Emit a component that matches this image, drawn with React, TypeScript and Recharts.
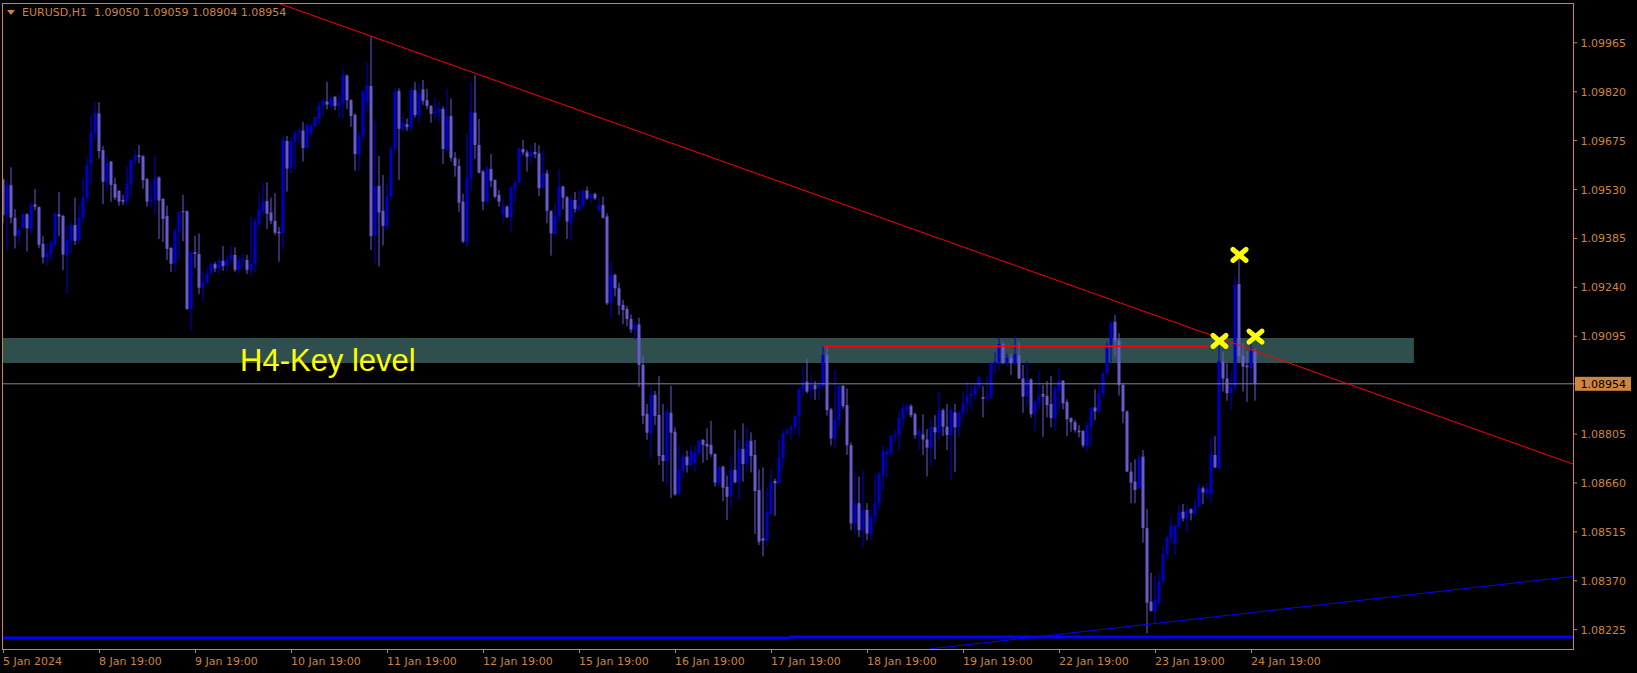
import React from 'react';
import { ComposedChart, Bar, Scatter, XAxis, YAxis, ReferenceArea, ReferenceLine } from 'recharts';

const symbol = 'EURUSD';
const timeframe = 'H1';

// H1 bars [open, high, low, close], first bar 5 Jan 19:00, last bar 24 Jan 20:00
const bars: number[][] = [
  [1.0956, 1.09563, 1.0943, 1.09454], [1.09457, 1.0956, 1.09351, 1.09543], [1.09543, 1.09596, 1.0943, 1.09447], [1.09446, 1.09472, 1.09355, 1.09393],
  [1.09395, 1.09418, 1.09366, 1.0941], [1.09418, 1.09459, 1.0941, 1.09457], [1.09457, 1.0946, 1.09346, 1.09415], [1.09413, 1.09492, 1.09398, 1.09484],
  [1.09486, 1.09532, 1.09469, 1.09479], [1.09478, 1.0948, 1.09356, 1.09366], [1.09369, 1.09392, 1.09311, 1.09329], [1.09328, 1.0937, 1.09304, 1.09341],
  [1.09339, 1.0938, 1.09319, 1.09373], [1.09366, 1.09466, 1.09361, 1.09457], [1.09457, 1.09523, 1.09392, 1.0945], [1.09452, 1.09455, 1.09291, 1.09337],
  [1.09334, 1.09423, 1.0922, 1.0938], [1.09378, 1.09435, 1.09341, 1.09425], [1.09425, 1.09506, 1.09366, 1.09378], [1.0938, 1.09484, 1.09369, 1.09448],
  [1.09447, 1.09565, 1.09425, 1.09507], [1.09507, 1.09627, 1.09491, 1.09602], [1.09608, 1.09748, 1.09548, 1.097], [1.09697, 1.09789, 1.09679, 1.09756],
  [1.09756, 1.09789, 1.09622, 1.09644], [1.09647, 1.09659, 1.09487, 1.09553], [1.09553, 1.0963, 1.09527, 1.09608], [1.09613, 1.09615, 1.09494, 1.09544],
  [1.09546, 1.09565, 1.09499, 1.09506], [1.09526, 1.09529, 1.09482, 1.09494], [1.09499, 1.09514, 1.09484, 1.09494], [1.09496, 1.09598, 1.09484, 1.09548],
  [1.09546, 1.09622, 1.09511, 1.09618], [1.09616, 1.09647, 1.09603, 1.0963], [1.09632, 1.09662, 1.09608, 1.09627], [1.09629, 1.09632, 1.09532, 1.09558],
  [1.09561, 1.09565, 1.09479, 1.09494], [1.09494, 1.09548, 1.09477, 1.09501], [1.09499, 1.0963, 1.09457, 1.09566], [1.09566, 1.09569, 1.09383, 1.09497],
  [1.09502, 1.09505, 1.09374, 1.09443], [1.09452, 1.09482, 1.09321, 1.09354], [1.09357, 1.09359, 1.09286, 1.0931], [1.0931, 1.09417, 1.09286, 1.09407],
  [1.09405, 1.09466, 1.09326, 1.09463], [1.09466, 1.09514, 1.09377, 1.09463], [1.09466, 1.09468, 1.09173, 1.09176], [1.09176, 1.09346, 1.09114, 1.09344],
  [1.09344, 1.09393, 1.09298, 1.09339], [1.09339, 1.094, 1.0922, 1.09239], [1.09239, 1.09287, 1.09198, 1.09255], [1.09254, 1.09298, 1.0925, 1.0928],
  [1.09282, 1.09314, 1.09277, 1.09309], [1.09309, 1.09315, 1.09285, 1.09296], [1.09296, 1.09328, 1.0928, 1.09319], [1.09319, 1.09363, 1.09289, 1.09303],
  [1.09303, 1.09333, 1.09288, 1.09321], [1.09321, 1.09363, 1.0931, 1.09336], [1.09336, 1.09359, 1.09285, 1.09292], [1.09292, 1.09331, 1.0928, 1.09321],
  [1.09321, 1.09341, 1.09302, 1.09325], [1.09321, 1.09336, 1.0928, 1.09292], [1.09292, 1.09452, 1.09275, 1.0931], [1.0931, 1.09445, 1.09285, 1.09435],
  [1.09428, 1.09519, 1.09415, 1.0947], [1.09465, 1.09549, 1.0945, 1.09494], [1.09496, 1.09552, 1.09413, 1.09458], [1.09462, 1.09506, 1.09428, 1.09437],
  [1.09437, 1.09519, 1.09395, 1.09402], [1.09405, 1.09419, 1.09316, 1.094], [1.094, 1.09691, 1.09354, 1.09677], [1.09674, 1.09689, 1.09524, 1.09592],
  [1.09594, 1.09685, 1.09578, 1.09672], [1.09672, 1.09704, 1.0959, 1.09697], [1.09697, 1.09711, 1.09667, 1.09705], [1.09705, 1.0973, 1.09613, 1.09653],
  [1.09653, 1.09726, 1.09649, 1.09722], [1.09697, 1.09724, 1.09687, 1.0972], [1.09718, 1.09749, 1.09716, 1.09744], [1.09739, 1.0979, 1.09724, 1.0978],
  [1.0978, 1.098, 1.09748, 1.09793], [1.09791, 1.0985, 1.09768, 1.09782], [1.09777, 1.09809, 1.09771, 1.098], [1.09805, 1.09808, 1.09765, 1.09778],
  [1.09776, 1.09815, 1.09744, 1.09786], [1.09786, 1.09887, 1.09741, 1.09869], [1.09868, 1.09871, 1.09769, 1.09795], [1.09795, 1.09798, 1.09716, 1.09748],
  [1.09751, 1.09756, 1.09586, 1.09635], [1.09635, 1.09702, 1.09586, 1.09689], [1.09689, 1.09825, 1.09674, 1.0982], [1.09791, 1.09906, 1.09761, 1.0984],
  [1.09837, 1.09985, 1.09351, 1.09392], [1.09395, 1.09733, 1.09311, 1.09539], [1.09541, 1.09629, 1.09302, 1.09462], [1.09467, 1.09573, 1.09364, 1.09422],
  [1.0942, 1.09547, 1.0941, 1.09509], [1.09509, 1.09662, 1.09499, 1.0965], [1.0965, 1.0983, 1.09645, 1.0982], [1.09822, 1.0983, 1.09558, 1.0971],
  [1.0971, 1.09749, 1.09702, 1.09728], [1.09724, 1.09741, 1.09704, 1.09715], [1.09715, 1.0983, 1.09699, 1.09827], [1.09825, 1.09849, 1.09744, 1.09751],
  [1.09751, 1.09843, 1.09726, 1.09815], [1.09827, 1.09855, 1.09781, 1.09793], [1.09795, 1.09828, 1.09769, 1.09778], [1.09778, 1.0978, 1.09728, 1.09754],
  [1.09756, 1.09803, 1.09736, 1.09761], [1.09758, 1.09789, 1.09728, 1.09771], [1.09769, 1.09776, 1.09606, 1.0965], [1.09649, 1.09828, 1.09645, 1.09748],
  [1.09748, 1.098, 1.09613, 1.09624], [1.09624, 1.09641, 1.09568, 1.096], [1.096, 1.09621, 1.09464, 1.09491], [1.09494, 1.09517, 1.09371, 1.09376],
  [1.09373, 1.09695, 1.09359, 1.09566], [1.09563, 1.09848, 1.09527, 1.09761], [1.09758, 1.0987, 1.09621, 1.09662], [1.09662, 1.09739, 1.09578, 1.0958],
  [1.09583, 1.09588, 1.09469, 1.09494], [1.09494, 1.09598, 1.09491, 1.09596], [1.09591, 1.09635, 1.09537, 1.09556], [1.09558, 1.0956, 1.09504, 1.09509],
  [1.09514, 1.09529, 1.09479, 1.09494], [1.09457, 1.09504, 1.0943, 1.09479], [1.09479, 1.09484, 1.09445, 1.09448], [1.09448, 1.09539, 1.09405, 1.09536],
  [1.09532, 1.0956, 1.09491, 1.0955], [1.0955, 1.09655, 1.09548, 1.09652], [1.0965, 1.09677, 1.09632, 1.0964], [1.0964, 1.09647, 1.09583, 1.09627],
  [1.09627, 1.09661, 1.09603, 1.0964], [1.09642, 1.09669, 1.09623, 1.09635], [1.09637, 1.09661, 1.09511, 1.09534], [1.09536, 1.09647, 1.09532, 1.09578],
  [1.09578, 1.09588, 1.0943, 1.09467], [1.09466, 1.09469, 1.09334, 1.094], [1.09398, 1.09489, 1.09395, 1.09452], [1.0945, 1.09591, 1.09435, 1.09539],
  [1.09539, 1.09541, 1.09471, 1.09506], [1.09507, 1.09511, 1.09383, 1.09435], [1.09432, 1.09511, 1.09378, 1.09499], [1.09499, 1.09523, 1.09462, 1.09472],
  [1.09469, 1.09527, 1.09464, 1.09484], [1.09482, 1.09529, 1.09479, 1.09527], [1.09527, 1.09539, 1.09499, 1.09504], [1.09504, 1.09519, 1.09489, 1.09517],
  [1.09517, 1.09521, 1.09499, 1.09504], [1.09469, 1.09507, 1.09464, 1.09484], [1.09484, 1.09509, 1.09443, 1.09447], [1.0945, 1.09459, 1.09188, 1.09193],
  [1.09195, 1.09316, 1.09151, 1.09277], [1.09277, 1.0928, 1.09213, 1.09237], [1.09237, 1.09254, 1.09158, 1.09186], [1.09188, 1.09203, 1.09131, 1.09173],
  [1.09176, 1.09185, 1.09124, 1.09146], [1.09146, 1.0916, 1.09105, 1.09115], [1.09115, 1.0914, 1.09084, 1.0913], [1.0913, 1.0915, 1.08945, 1.0901],
  [1.0901, 1.09039, 1.08835, 1.08859], [1.08865, 1.08894, 1.08788, 1.08809], [1.08807, 1.08948, 1.08735, 1.08921], [1.08921, 1.08933, 1.08832, 1.08859],
  [1.08862, 1.08977, 1.08713, 1.0874], [1.08743, 1.08894, 1.08664, 1.08725], [1.08726, 1.08881, 1.08654, 1.08871], [1.08868, 1.08948, 1.08616, 1.08809],
  [1.08812, 1.08825, 1.08622, 1.08626], [1.08629, 1.0877, 1.08624, 1.08699], [1.08696, 1.08748, 1.08672, 1.08738], [1.08738, 1.08756, 1.08691, 1.08713],
  [1.08713, 1.08771, 1.08708, 1.08755], [1.08718, 1.0877, 1.08691, 1.0875], [1.08748, 1.08788, 1.08743, 1.08785], [1.08788, 1.0879, 1.0872, 1.08773],
  [1.08776, 1.08822, 1.08728, 1.08768], [1.08773, 1.08844, 1.08738, 1.08746], [1.08746, 1.08748, 1.08649, 1.08661], [1.08661, 1.0871, 1.08646, 1.08708],
  [1.08708, 1.08712, 1.08605, 1.08646], [1.08649, 1.08682, 1.0855, 1.08619], [1.08622, 1.08738, 1.08583, 1.08699], [1.08699, 1.08817, 1.08659, 1.08662],
  [1.08664, 1.08788, 1.08606, 1.08761], [1.08761, 1.08837, 1.08664, 1.08716], [1.08718, 1.08829, 1.08694, 1.08785], [1.08785, 1.0881, 1.08691, 1.0874],
  [1.08743, 1.08788, 1.08509, 1.08636], [1.08639, 1.087, 1.08476, 1.08486], [1.08496, 1.08706, 1.08442, 1.08489], [1.08489, 1.08647, 1.08473, 1.08575],
  [1.0857, 1.087, 1.08565, 1.08664], [1.08666, 1.08672, 1.08563, 1.08659], [1.08659, 1.08788, 1.08657, 1.08738], [1.08735, 1.08819, 1.087, 1.08807],
  [1.08807, 1.08825, 1.08805, 1.08815], [1.08817, 1.08832, 1.08788, 1.08825], [1.08825, 1.08862, 1.08805, 1.08859], [1.08859, 1.08944, 1.08797, 1.08938],
  [1.08938, 1.09007, 1.08919, 1.08958], [1.0896, 1.09028, 1.08926, 1.08931], [1.08938, 1.0898, 1.08909, 1.0895], [1.0895, 1.08962, 1.08906, 1.08938],
  [1.08941, 1.08963, 1.08904, 1.08952], [1.08946, 1.09066, 1.08944, 1.09039], [1.09039, 1.09066, 1.0886, 1.08876], [1.08878, 1.08883, 1.08771, 1.08792],
  [1.08792, 1.08995, 1.08763, 1.08847], [1.08847, 1.0895, 1.08827, 1.08948], [1.08948, 1.0895, 1.0888, 1.08888], [1.08891, 1.0894, 1.08743, 1.08772],
  [1.08772, 1.0878, 1.0852, 1.0854], [1.0854, 1.0869, 1.0851, 1.086], [1.086, 1.08679, 1.085, 1.0852], [1.0852, 1.08698, 1.08467, 1.0858],
  [1.0858, 1.086, 1.0849, 1.0851], [1.0851, 1.0858, 1.0849, 1.0856], [1.0856, 1.08688, 1.0854, 1.086], [1.086, 1.08693, 1.0858, 1.08686],
  [1.08682, 1.08771, 1.0864, 1.08755], [1.08743, 1.08763, 1.08676, 1.08753], [1.08748, 1.08802, 1.0874, 1.08799], [1.08797, 1.08817, 1.08782, 1.08802],
  [1.08802, 1.08873, 1.08758, 1.08853], [1.0885, 1.08896, 1.08824, 1.08881], [1.08878, 1.08896, 1.08864, 1.08888], [1.08888, 1.08894, 1.08854, 1.08861],
  [1.08864, 1.08869, 1.08792, 1.08802], [1.08802, 1.08822, 1.08758, 1.08814], [1.08804, 1.08864, 1.08743, 1.08789], [1.08789, 1.0882, 1.08679, 1.08765],
  [1.08765, 1.0885, 1.08711, 1.08825], [1.08825, 1.08861, 1.0873, 1.0881], [1.08809, 1.08931, 1.08787, 1.08876], [1.08876, 1.08881, 1.08799, 1.08827],
  [1.08827, 1.08894, 1.08758, 1.08802], [1.08802, 1.08884, 1.08669, 1.08876], [1.08869, 1.08894, 1.08693, 1.08825], [1.08825, 1.08874, 1.08795, 1.08868],
  [1.08866, 1.08933, 1.08854, 1.08896], [1.08896, 1.08962, 1.08866, 1.08918], [1.08918, 1.0895, 1.08878, 1.08924], [1.08921, 1.08957, 1.08908, 1.08945],
  [1.08945, 1.08977, 1.0894, 1.08975], [1.08914, 1.08947, 1.08854, 1.08909], [1.08913, 1.08977, 1.08901, 1.08916], [1.08913, 1.09017, 1.08909, 1.09015],
  [1.09012, 1.09047, 1.08985, 1.09019], [1.09018, 1.09092, 1.08993, 1.09072], [1.09072, 1.09079, 1.09012, 1.09015], [1.09017, 1.09044, 1.09005, 1.09031],
  [1.09031, 1.09044, 1.0898, 1.09015], [1.09013, 1.09096, 1.0901, 1.09042], [1.09039, 1.09079, 1.08967, 1.0897], [1.0897, 1.0901, 1.08868, 1.08916],
  [1.08916, 1.09021, 1.08886, 1.08965], [1.08967, 1.0897, 1.08854, 1.08864], [1.08866, 1.08906, 1.08815, 1.08901], [1.08898, 1.08995, 1.08881, 1.08918],
  [1.08924, 1.0895, 1.08797, 1.08916], [1.08918, 1.08962, 1.08854, 1.08891], [1.08894, 1.08977, 1.08825, 1.08852], [1.08852, 1.08948, 1.08815, 1.08944],
  [1.08936, 1.09, 1.08876, 1.08963], [1.08963, 1.08965, 1.08878, 1.08896], [1.089, 1.08908, 1.08799, 1.08849], [1.08852, 1.08855, 1.08812, 1.0884],
  [1.0884, 1.08847, 1.08809, 1.08817], [1.08815, 1.08832, 1.08795, 1.0881], [1.08814, 1.08817, 1.08765, 1.08771], [1.08771, 1.08839, 1.08753, 1.08832],
  [1.08827, 1.08884, 1.08766, 1.08882], [1.08884, 1.08938, 1.08847, 1.08872], [1.08872, 1.08951, 1.08867, 1.08926], [1.08926, 1.08992, 1.08914, 1.08985],
  [1.08985, 1.09079, 1.08983, 1.09069], [1.09069, 1.0914, 1.09017, 1.09136], [1.09138, 1.09158, 1.09035, 1.09082], [1.09082, 1.09104, 1.08919, 1.08951],
  [1.08951, 1.08955, 1.08837, 1.08872], [1.08872, 1.08875, 1.08692, 1.08694], [1.08694, 1.08721, 1.086, 1.08661], [1.08664, 1.0873, 1.086, 1.08639],
  [1.08644, 1.08743, 1.08642, 1.08736], [1.08738, 1.08758, 1.08483, 1.08526], [1.08526, 1.08583, 1.08214, 1.08305], [1.08308, 1.08394, 1.08279, 1.08281],
  [1.08279, 1.08384, 1.08246, 1.08313], [1.08303, 1.08394, 1.08299, 1.08368], [1.08368, 1.08474, 1.08363, 1.0845], [1.0845, 1.08503, 1.08434, 1.08499],
  [1.08499, 1.08558, 1.08481, 1.08533], [1.0848, 1.08536, 1.08447, 1.08533], [1.08531, 1.08595, 1.08529, 1.08575], [1.08575, 1.08598, 1.08546, 1.08555],
  [1.08555, 1.08595, 1.08511, 1.0858], [1.08582, 1.08585, 1.08549, 1.0857], [1.0857, 1.08612, 1.08562, 1.08592], [1.0859, 1.08661, 1.08588, 1.08647],
  [1.08644, 1.0865, 1.08598, 1.08632], [1.08629, 1.08661, 1.08612, 1.08644], [1.08627, 1.08792, 1.086, 1.08746], [1.08743, 1.08799, 1.08704, 1.08706],
  [1.08704, 1.09076, 1.08694, 1.09022], [1.0902, 1.09049, 1.08931, 1.0897], [1.0897, 1.09015, 1.08904, 1.08926], [1.08926, 1.0899, 1.08876, 1.08946],
  [1.08946, 1.09272, 1.08931, 1.09247], [1.0925, 1.09326, 1.09015, 1.09035], [1.09037, 1.09074, 1.08931, 1.09005], [1.09008, 1.09051, 1.08901, 1.09003],
  [1.09, 1.09084, 1.08951, 1.09052], [1.0905, 1.09059, 1.08904, 1.08954],
];

const dateTicks = [0, 24, 48, 72, 96, 120, 144, 168, 192, 216, 240, 264, 288, 312];
const dateLabels = [
  '5 Jan 2024', '8 Jan 19:00', '9 Jan 19:00', '10 Jan 19:00', '11 Jan 19:00', '12 Jan 19:00', '15 Jan 19:00',
  '16 Jan 19:00', '17 Jan 19:00', '18 Jan 19:00', '19 Jan 19:00', '22 Jan 19:00', '23 Jan 19:00', '24 Jan 19:00',
];
const priceTicks = [1.09965, 1.0982, 1.09675, 1.0953, 1.09385, 1.0924, 1.09095, 1.08805, 1.0866, 1.08515, 1.0837, 1.08225];

// drawn objects
const keyLevelLow = 1.09016;
const keyLevelHigh = 1.0909;
const keyLevelEndBar = 352.6;
const redTrend = [{ bar: 68.6, price: 1.10083 }, { bar: 392.4, price: 1.08716 }];
const redLevel = [{ bar: 205, price: 1.09065 }, { bar: 301, price: 1.09065 }];
const blueTrend = [{ bar: 231.6, price: 1.08168 }, { bar: 392.4, price: 1.08383 }];
const blueFloor = [
  [{ bar: -0.4, price: 1.082 }, { bar: 196.5, price: 1.082 }],
  [{ bar: 196.5, price: 1.08203 }, { bar: 392.4, price: 1.08203 }],
];
const crosses = [{ idx: 304, price: 1.09081 }, { idx: 309, price: 1.09336 }, { idx: 313, price: 1.09094 }];

const AXIS = '#CD853F';
const BULL = '#0000CD';
const BEAR = '#6A5ACD';
const FONT = '"DejaVu Sans", Verdana, sans-serif';

const data = bars.map((b, i) => ({ idx: i, open: b[0], high: b[1], low: b[2], close: b[3] }));
const last = bars[bars.length - 1];
const lastClose = last[3];

function Candle(props: any) {
  const { x, y, width, height, payload } = props;
  const { open, high, low, close } = payload;
  const top = Math.min(y, y + height);
  const h = Math.abs(height);
  const k = high > low ? h / (high - low) : 0;
  const yOf = (v: number) => top + (high - v) * k;
  const cx = x + width / 2;
  const col = close >= open ? BULL : BEAR;
  const b1 = yOf(Math.max(open, close));
  const b2 = yOf(Math.min(open, close));
  return (
    <g>
      <line x1={cx} x2={cx} y1={yOf(high)} y2={yOf(low)} stroke={col} strokeWidth={1} />
      <rect x={cx - 1.5} y={b1} width={3} height={Math.max(1, b2 - b1)} fill={col} />
    </g>
  );
}

function Cross(props: any) {
  const { cx, cy } = props;
  return (
    <g stroke="#FFFF00" strokeWidth={5} strokeLinecap="round">
      <line x1={cx - 6.5} y1={cy - 5.5} x2={cx + 6.5} y2={cy + 5.5} />
      <line x1={cx - 6.5} y1={cy + 5.5} x2={cx + 6.5} y2={cy - 5.5} />
    </g>
  );
}

function DateTick(props: any) {
  const { x, y, payload } = props;
  const i = dateTicks.indexOf(payload.value);
  return (
    <text x={x - 0.5} y={y + 10} fill={AXIS} fontSize={11} fontFamily={FONT} textAnchor="start">
      {dateLabels[i]}
    </text>
  );
}

function PriceTick(props: any) {
  const { x, y, payload } = props;
  const v = payload.value;
  if (v === lastClose) {
    return (
      <g>
        <rect x={x - 4} y={y - 7} width={56} height={14} fill={AXIS} />
        <text x={x + 1.5} y={y + 4} fill="#000" fontSize={11} fontFamily={FONT}>{v.toFixed(5)}</text>
      </g>
    );
  }
  return (
    <text x={x + 1.5} y={y + 4} fill={AXIS} fontSize={11} fontFamily={FONT}>{v.toFixed(5)}</text>
  );
}

function KeyLabel(props: any) {
  const { viewBox } = props;
  return (
    <text x={viewBox.x + 238} y={viewBox.y + 33} fill="#FFFF00" fontSize={31} fontFamily='"Liberation Sans", Arial, sans-serif'>
      H4-Key level
    </text>
  );
}

export default function App() {
  return (
    <div style={{ position: 'absolute', left: 0, top: 0, width: 1637, height: 673, background: '#000', overflow: 'hidden' }}>
      <ComposedChart width={1637} height={673} data={data} margin={{ top: 3, right: 0, bottom: 0, left: 2 }}>
        <XAxis
          dataKey="idx"
          type="number"
          domain={[-0.375, 392.375]}
          allowDataOverflow
          ticks={dateTicks}
          interval={0}
          height={24}
          tickSize={4}
          axisLine={false}
          tickLine={{ stroke: AXIS }}
          tick={<DateTick />}
        />
        <YAxis
          orientation="right"
          type="number"
          domain={[1.081677, 1.100831]}
          allowDataOverflow
          ticks={[...priceTicks, lastClose]}
          interval={0}
          width={64}
          tickSize={4}
          axisLine={false}
          tickLine={{ stroke: AXIS }}
          tick={<PriceTick />}
        />
        <ReferenceArea
          x1={-0.375}
          x2={keyLevelEndBar}
          y1={keyLevelLow}
          y2={keyLevelHigh}
          fill="#2F4F4F"
          fillOpacity={1}
          stroke="none"
          ifOverflow="hidden"
          label={<KeyLabel />}
        />
        <Bar dataKey={(d: any) => [d.low, d.high]} barSize={3} shape={<Candle />} isAnimationActive={false} />
        <ReferenceLine y={lastClose} stroke="#778899" strokeWidth={1} ifOverflow="hidden" />
        <ReferenceLine
          segment={[{ x: redLevel[0].bar, y: redLevel[0].price }, { x: redLevel[1].bar, y: redLevel[1].price }]}
          stroke="#FF0000"
          strokeWidth={1.5}
          ifOverflow="hidden"
        />
        <ReferenceLine
          segment={[{ x: redTrend[0].bar, y: redTrend[0].price }, { x: redTrend[1].bar, y: redTrend[1].price }]}
          stroke="#FF0000"
          strokeWidth={1}
          ifOverflow="hidden"
        />
        <ReferenceLine
          segment={[{ x: blueTrend[0].bar, y: blueTrend[0].price }, { x: blueTrend[1].bar, y: blueTrend[1].price }]}
          stroke="#0000FF"
          strokeWidth={1}
          ifOverflow="hidden"
        />
        {blueFloor.map((s, i) => (
          <ReferenceLine
            key={i}
            segment={[{ x: s[0].bar, y: s[0].price }, { x: s[1].bar, y: s[1].price }]}
            stroke="#0000FF"
            strokeWidth={3}
            ifOverflow="hidden"
          />
        ))}
        <Scatter data={crosses} dataKey="price" shape={<Cross />} isAnimationActive={false} />
      </ComposedChart>
      <div
        style={{
          position: 'absolute', left: 2, top: 3, width: 1572, height: 647,
          border: `1px solid ${AXIS}`, boxSizing: 'border-box', pointerEvents: 'none',
        }}
      />
      <div
        style={{
          position: 'absolute', left: 7, top: 10, width: 0, height: 0,
          borderLeft: '4px solid transparent', borderRight: '4px solid transparent', borderTop: `5px solid ${AXIS}`,
        }}
      />
      <div
        style={{
          position: 'absolute', left: 22, top: 6, fontFamily: FONT, fontSize: 11, lineHeight: '13px',
          color: AXIS, whiteSpace: 'pre',
        }}
      >
        {`${symbol},${timeframe}  ${last.map((v) => v.toFixed(5)).join(' ')}`}
      </div>
    </div>
  );
}
